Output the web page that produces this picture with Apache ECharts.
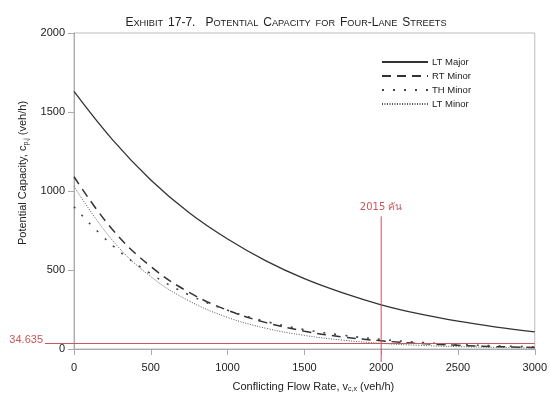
<!DOCTYPE html>
<html>
<head>
<meta charset="utf-8">
<script src="https://cdn.jsdelivr.net/npm/echarts@6/dist/echarts.min.js"></script>
<style>
  html, body { margin: 0; padding: 0; background: #fff; }
  #chart { width: 550px; height: 403px; }
</style>
</head>
<body>
<div id="chart"></div>
<script>
// conflicting flow rate (veh/h)
const flows = [0, 250, 500, 750, 1000, 1250, 1500, 1750, 2000, 2250, 2500, 2750, 3000];
// potential capacity (veh/h)
const ltMajor = [1630, 1325, 1070, 862, 696, 558, 445, 355, 280, 222, 176, 139, 108];
const rtMinor = [1090, 756, 522, 358, 245, 167, 113, 76, 52, 35, 23, 15, 10];
const thMinor = [900, 656, 476, 342, 245, 174, 123, 87, 61, 42, 29, 20, 14];
const ltMinor = [1029, 688, 458, 304, 200, 131, 86, 56, 36, 23, 15, 10, 6];

const refValue = 34.635;
const refFlow = 2000;
const refTop = 840;
const refLabel = "2015 คัน";

const red = "#c9565a";
const font = "'Liberation Sans Narrow', 'Liberation Sans', Arial, sans-serif";

function pairs(ys) {
  return flows.map((x, i) => [x, ys[i]]);
}

function curve(name, ys, color, width, type) {
  return {
    name, type: "line", data: pairs(ys), smooth: 0.4, symbol: "none",
    lineStyle: { color, width, type }, itemStyle: { color },
  };
}

const chart = echarts.init(document.getElementById("chart"));

chart.setOption({
  animation: false,
  backgroundColor: "#fff",
  title: {
    text: "{b|E}{s|XHIBIT} {b|17-7.}  {b|P}{s|OTENTIAL} {b|C}{s|APACITY} {s|FOR} {b|F}{s|OUR}{b|-L}{s|ANE} {b|S}{s|TREETS}",
    left: 281,
    top: 9,
    textAlign: "center",
    textStyle: {
      rich: {
        b: { fontFamily: font, fontSize: 12, fontWeight: "normal", color: "#222" },
        s: { fontFamily: font, fontSize: 9.2, fontWeight: "normal", color: "#222" },
      },
    },
  },
  grid: {
    left: 74, right: 14, top: 33, bottom: 54,
    show: true,
    borderColor: "#bbb",
    borderWidth: 1,
  },
  legend: {
    orient: "vertical",
    left: 376,
    top: 52,
    itemWidth: 46,
    itemHeight: 8,
    itemGap: 4,
    itemStyle: { opacity: 0 },
    textStyle: { fontFamily: font, fontSize: 9.5, color: "#222", padding: [0, 0, 0, -1] },
    data: ["LT Major", "RT Minor", "TH Minor", "LT Minor"],
  },
  xAxis: {
    type: "value",
    min: 0, max: 3000, interval: 500,
    name: "Conflicting Flow Rate, v{sub|c,x} (veh/h)",
    nameLocation: "middle",
    nameGap: 31,
    nameTextStyle: {
      fontFamily: font, fontSize: 11, color: "#222",
      padding: [0, 0, 0, 18],
      rich: { sub: { fontFamily: font, fontSize: 7, color: "#222", padding: [6, 0, 0, 0] } },
    },
    axisLine: { show: true, lineStyle: { color: "#aaa" } },
    axisTick: { show: true, length: 6, lineStyle: { color: "#aaa" } },
    axisLabel: { fontFamily: font, fontSize: 11, color: "#222", margin: 13, formatter: (v) => String(v) },
    splitLine: { show: false },
  },
  yAxis: {
    type: "value",
    min: 0, max: 2000, interval: 500,
    name: "Potential Capacity, c{sub|p,j} (veh/h)",
    nameLocation: "middle",
    nameGap: 42,
    nameTextStyle: {
      fontFamily: font, fontSize: 11, color: "#222",
      padding: [0, 0, 0, 36],
      rich: { sub: { fontFamily: font, fontSize: 7, color: "#222", padding: [6, 0, 0, 0] } },
    },
    axisLine: { show: true, lineStyle: { color: "#aaa" } },
    axisTick: { show: true, length: 6, lineStyle: { color: "#aaa" } },
    axisLabel: { fontFamily: font, fontSize: 11, color: "#222", margin: 9, formatter: (v) => String(v) },
    splitLine: { show: false },
  },
  series: [
    curve("LT Major", ltMajor, "#333", 1.3, "solid"),
    curve("RT Minor", rtMinor, "#333", 1.5, [9, 6]),
    curve("TH Minor", thMinor, "#444", 1.6, [2, 9]),
    curve("LT Minor", ltMinor, "#555", 1, [1, 1.5]),
  ],
});

// red reference lines, positioned through the chart's own axes
const toPx = (p) => chart.convertToPixel({ gridIndex: 0 }, p);
const hStart = toPx([0, refValue]);
const hEnd = toPx([3000, refValue]);
const vBottom = toPx([refFlow, 0]);
const vTop = toPx([refFlow, refTop]);
const zr = chart.getZr();
zr.add(new echarts.graphic.Line({
  silent: true, z: 10,
  shape: { x1: hStart[0] - 29, y1: hStart[1], x2: hEnd[0], y2: hEnd[1] },
  style: { stroke: red, lineWidth: 1 },
}));
zr.add(new echarts.graphic.Line({
  silent: true, z: 10,
  shape: { x1: vTop[0], y1: vTop[1], x2: vBottom[0], y2: vBottom[1] + 13 },
  style: { stroke: red, lineWidth: 1 },
}));
zr.add(new echarts.graphic.Text({
  silent: true, z: 10, x: hStart[0] - 31, y: hStart[1] - 4,
  style: { text: String(refValue), fill: red, font: "11px 'Liberation Sans', Arial, sans-serif", align: "right", verticalAlign: "middle" },
}));
zr.add(new echarts.graphic.Text({
  silent: true, z: 10, x: vTop[0], y: vTop[1] - 4,
  style: { text: refLabel, fill: red, font: "10px 'DejaVu Sans', 'Noto Sans', sans-serif", align: "center", verticalAlign: "bottom" },
}));
</script>
</body>
</html>
